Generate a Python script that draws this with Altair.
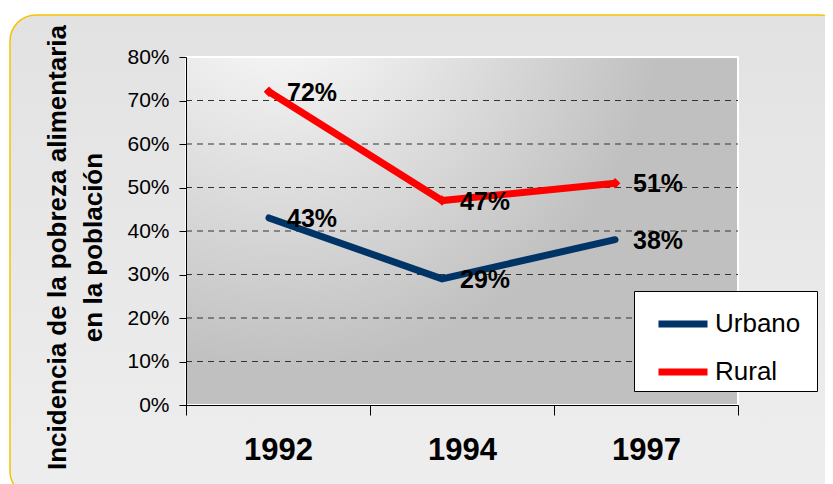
import altair as alt
import pandas as pd

# ---- data ----
years = ["1992", "1994", "1997"]
urbano = [43, 29, 38]
rural = [72, 47, 51]
series = ["Urbano", "Rural"]
series_colors = ["#003366", "#ff0000"]
y_ticks = [0, 10, 20, 30, 40, 50, 60, 70, 80]
grid_values = [10, 20, 30, 40, 50, 60, 70]
y_title = ["Incidencia de la pobreza alimentaria", "en la población"]

rows = []
for s, vals in zip(series, [urbano, rural]):
    for yr, v in zip(years, vals):
        rows.append({"year": yr, "series": s, "value": v, "label": f"{v}%"})
df = pd.DataFrame(rows)

W, H = 552, 348
FONT = "Arial, Liberation Sans, sans-serif"
one = pd.DataFrame({"k": [0]})

yscale = alt.Scale(domain=[0, 80], nice=False, zero=True)

yaxis = alt.Axis(
    values=y_ticks, labelExpr="datum.value + '%'", labelFontSize=21, labelFont=FONT,
    labelColor="black", tickSize=7, tickColor="black", domainColor="black",
    grid=False, labelPadding=10, zindex=1,
    title=y_title, titleFontSize=26, titleFontWeight="bold", titleFont=FONT,
    titleColor="black", titleAngle=270, titleX=-129, titleY=190,
    titleLineHeight=36, titleAlign="center", titleBaseline="middle",
)

# outer rounded panel
outer = alt.Chart(one).mark_rect(
    cornerRadius=26,
    fill=alt.LinearGradient(
        gradient="linear",
        stops=[alt.GradientStop(color="#e2e2e2", offset=0),
               alt.GradientStop(color="#eeeeee", offset=1)],
        x1=0, x2=0, y1=0, y2=1),
    stroke="#f5c400", strokeWidth=1.5,
).encode(x=alt.value(-176), x2=alt.value(660), y=alt.value(-42), y2=alt.value(440))

# plot area with radial gradient
plot_bg = alt.Chart(one).mark_rect(
    fill=alt.RadialGradient(
        gradient="radial",
        stops=[alt.GradientStop(color="#ffffff", offset=0),
               alt.GradientStop(color="#c0c0c0", offset=1)],
        x1=0.17, y1=0.05, x2=0.17, y2=0.05, r1=0, r2=0.7),
    stroke="white", strokeWidth=2,
).encode(x=alt.value(0), x2=alt.value(W), y=alt.value(0), y2=alt.value(H))

grid = alt.Chart(pd.DataFrame({"value": grid_values})).mark_rule(
    strokeDash=[6, 5], color="#333333", strokeWidth=1
).encode(
    y=alt.Y("value:Q", scale=yscale, axis=yaxis),
    x=alt.value(0), x2=alt.value(W),
)

xaxis_layer = alt.Chart(pd.DataFrame({"year": years})).mark_tick(opacity=0).encode(
    x=alt.X("year:N", sort=years,
            scale=alt.Scale(type="band", paddingInner=0, paddingOuter=0),
            axis=alt.Axis(title=None, labelAngle=0, labelFontSize=31, labelFontWeight="bold",
                          labelFont=FONT, labelColor="black", tickBand="extent", tickSize=10,
                          tickColor="black", domainColor="black", labelPadding=20, zindex=1)),
)

xp = alt.X("year:N", sort=years, scale=alt.Scale(type="point", padding=0.595, align=0.403), axis=None)
yv = alt.Y("value:Q", scale=yscale, axis=yaxis)

lines = alt.Chart(df).mark_line(strokeWidth=7, strokeCap="round").encode(
    x=xp, y=yv,
    color=alt.Color("series:N", sort=series,
                    scale=alt.Scale(domain=series, range=series_colors),
                    legend=alt.Legend(orient="none", legendX=448, legendY=234,
                                      title=" ", titleOrient="right", titlePadding=12,
                                      fillColor="white", strokeColor="black", padding=5,
                                      symbolType="stroke", symbolStrokeWidth=7,
                                      symbolSize=2401, symbolOffset=16, labelOffset=4,
                                      labelFontSize=26, labelFont=FONT, labelColor="black",
                                      rowPadding=6, direction="vertical", zindex=1)),
)

diamonds = alt.Chart(df).transform_filter(alt.datum.series == "Rural").mark_point(
    shape="diamond", filled=True, size=110, opacity=1
).encode(x=xp, y=yv, color=alt.value("#ff0000"))

labels = alt.Chart(df).mark_text(
    align="left", baseline="middle", dx=18, dy=1, fontSize=25, fontWeight="bold",
    font=FONT, color="black"
).encode(x=xp, y=yv, text="label:N")

chart = alt.layer(outer, plot_bg, grid, xaxis_layer, lines, diamonds, labels).resolve_scale(
    x="independent"
).properties(
    width=W, height=H,
    autosize=alt.AutoSizeParams(type="none"),
    padding={"left": 178, "top": 49, "right": 87, "bottom": 79},
).configure_view(stroke=None).configure(background="white")

chart.save("out.html", embed_options={"renderer": "svg", "actions": False})
